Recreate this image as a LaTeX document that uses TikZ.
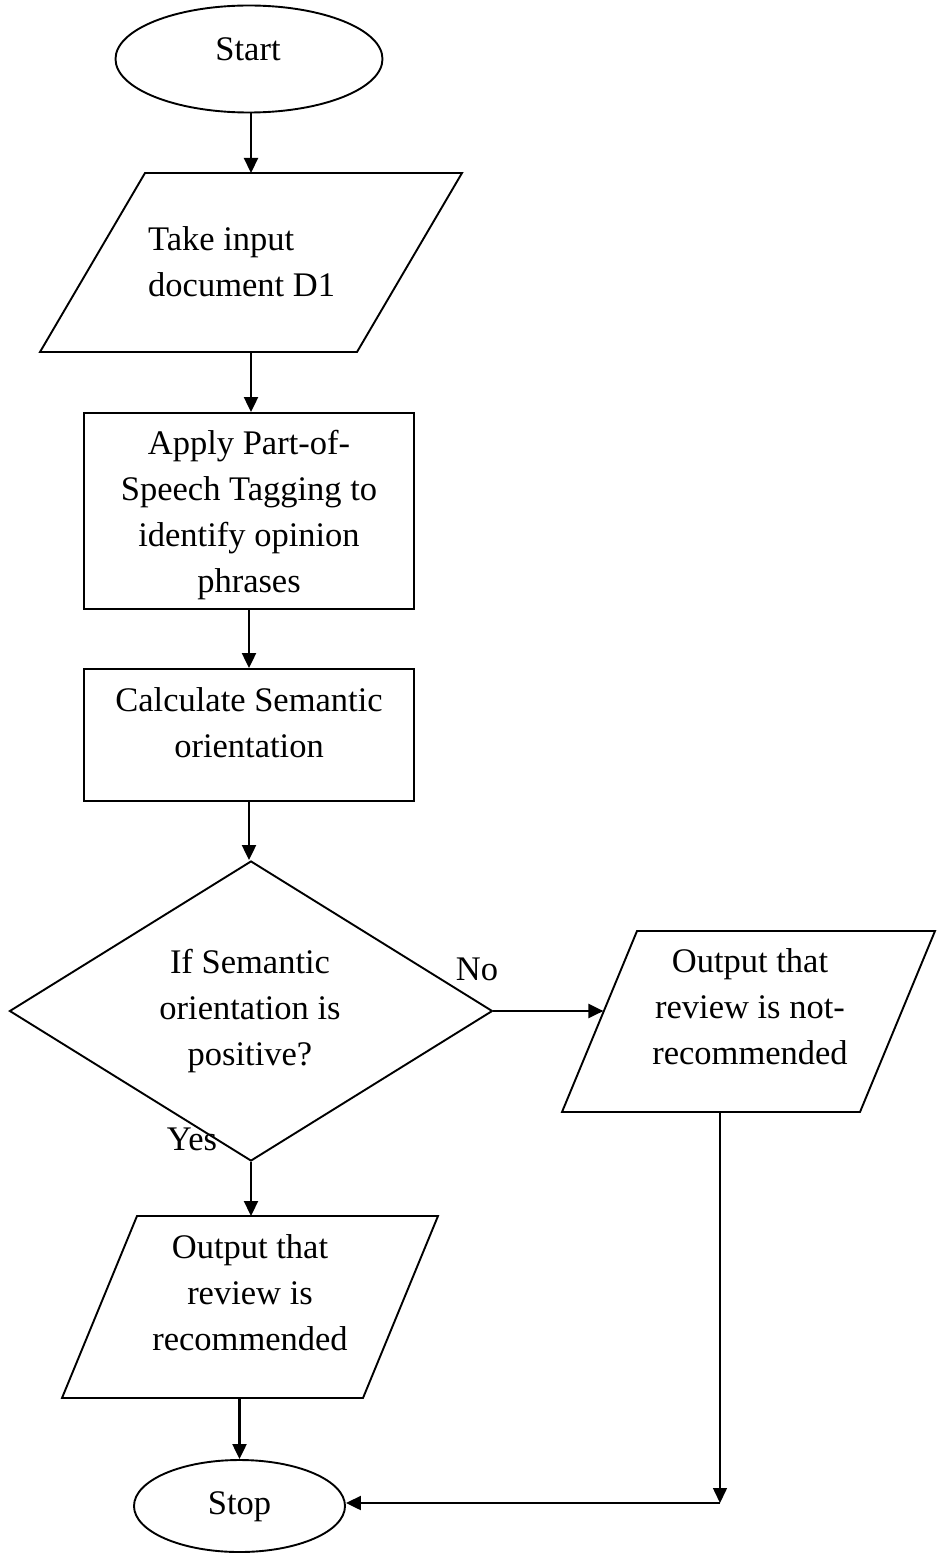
\documentclass[tikz,border=0pt]{standalone}
\usepackage{fontspec}
\setmainfont{Liberation Serif}
\usetikzlibrary{shapes.geometric,arrows.meta,calc}
\begin{document}
\begin{tikzpicture}[x=1pt,y=-1pt,
  shp/.style={draw, line width=1.9pt, inner sep=0pt},
  parabox/.style={draw=none, rectangle, inner sep=0pt, outer sep=0pt},
  paraline/.style={line width=1.9pt, line join=miter},
  txt/.style={inner sep=0pt, font=\fontsize{34.5}{46}\selectfont, align=center},
  arr/.style={line width=2.2pt, -{Triangle[length=15pt,width=14pt]}}
]
\useasboundingbox (0,0) rectangle (940,1554);
% shapes
\node[shp, ellipse, minimum width=267pt, minimum height=107pt] (start) at (249,59) {};
\node[parabox, minimum width=422pt, minimum height=179pt] (in1) at (251,262.5) {};
\draw[paraline] ([xshift=105pt]in1.north west) -- (in1.north east) -- ([xshift=-105pt]in1.south east) -- (in1.south west) -- cycle;
\node[shp, rectangle, minimum width=330pt, minimum height=196pt] (box1) at (249,511) {};
\node[shp, rectangle, minimum width=330pt, minimum height=132pt] (box2) at (249,735) {};
\node[shp, diamond, minimum width=483pt, minimum height=300pt] (dec) at (251,1011) {};
\node[parabox, minimum width=373pt, minimum height=181pt] (out2) at (748.5,1021.5) {};
\draw[paraline] ([xshift=75pt]out2.north west) -- (out2.north east) -- ([xshift=-75pt]out2.south east) -- (out2.south west) -- cycle;
\node[parabox, minimum width=376pt, minimum height=182pt] (out1) at (250,1307) {};
\draw[paraline] ([xshift=75pt]out1.north west) -- (out1.north east) -- ([xshift=-75pt]out1.south east) -- (out1.south west) -- cycle;
\node[shp, ellipse, minimum width=211pt, minimum height=92pt] (stop) at (239.5,1506) {};
% texts
\node[txt] (tstart) at (248,51.8) {\strut Start};
\node[txt, anchor=west, align=left] (tin1) at (148,264.3) {\strut Take input\\document D1\strut};
\node[txt] (tbox1) at (249,514.3) {\strut Apply Part-of-\\Speech Tagging to\\identify opinion\\phrases\strut};
\node[txt] (tbox2) at (249,725.3) {\strut Calculate Semantic\\orientation\strut};
\node[txt] (tdec) at (250,1010.3) {\strut If Semantic\\orientation is\\positive?\strut};
\node[txt] (tno) at (477,970.8) {\strut No};
\node[txt] (tyes) at (192,1140.8) {\strut Yes};
\node[txt] (tout2) at (750,1008.8) {\strut Output that\\review is not-\\recommended\strut};
\node[txt] (tout1) at (250,1294.8) {\strut Output that\\review is\\recommended\strut};
\node[txt] (tstop) at (239.5,1504.8) {\strut Stop};
% connectors
\coordinate (out2left) at ($(out2.south west)!0.552!([xshift=75pt]out2.north west)$);
\draw[arr] (start.south -| in1.north) -- (in1.north);
\draw[arr] (in1.south) -- (in1.south |- box1.north);
\draw[arr] (box1.south) -- (box2.north);
\draw[arr] (box2.south) -- (box2.south |- dec.north);
\draw[arr] (dec.east) -- (dec.east -| out2left);
\draw[arr] (dec.south) -- (dec.south |- out1.north);
\draw[arr] (out1.south -| stop.north) -- (stop.north);
\coordinate (corner) at (720,1503);
\draw[arr, line width=1.5pt] (corner |- out2.south) -- (corner);
\draw[arr] (corner) -- (corner -| stop.east);
\end{tikzpicture}
\end{document}
